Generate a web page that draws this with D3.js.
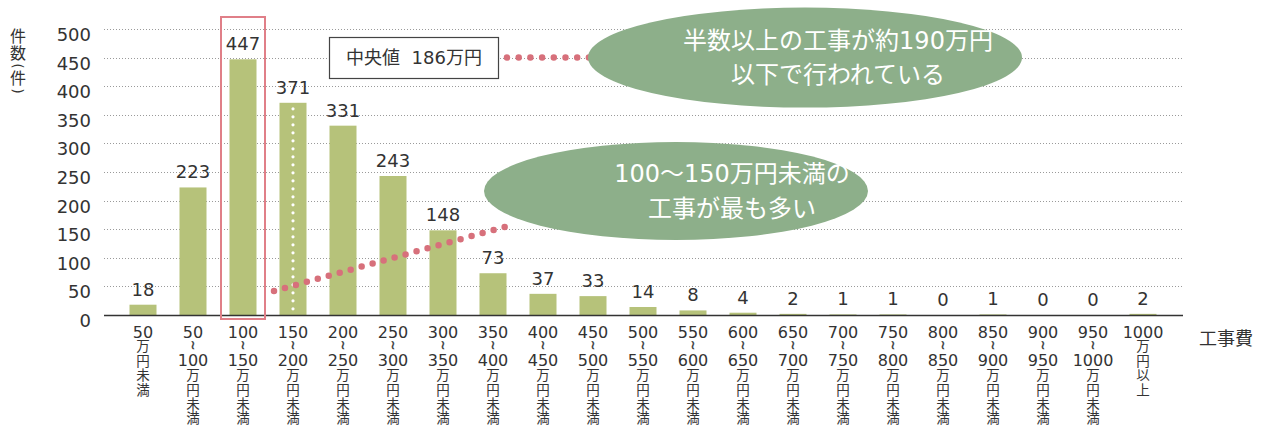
<!DOCTYPE html>
<html>
<head>
<meta charset="utf-8">
<script src="https://cdn.jsdelivr.net/npm/d3@7"></script>
<style>
  body { margin: 0; background: #fff; }
  svg { display: block; font-family: "DejaVu Sans", "Noto Sans CJK JP", sans-serif; }
  .grid line { stroke: #9a9a9a; stroke-dasharray: 1,2; }
  .val { font-size: 18px; fill: #333; text-anchor: middle; }
  .ytick { font-size: 18px; fill: #333; text-anchor: end; }
  .xlab text { fill: #333; text-anchor: middle; dominant-baseline: central; }
  .bubble text { fill: #fff; font-size: 24px; text-anchor: middle; dominant-baseline: central; }
</style>
</head>
<body>
<svg width="1264" height="427"></svg>
<script>
      // data
      const categories = ["50万円未満", "50～100万円未満", "100～150万円未満", "150～200万円未満",
        "200～250万円未満", "250～300万円未満", "300～350万円未満", "350～400万円未満",
        "400～450万円未満", "450～500万円未満", "500～550万円未満", "550～600万円未満",
        "600～650万円未満", "650～700万円未満", "700～750万円未満", "750～800万円未満",
        "800～850万円未満", "850～900万円未満", "900～950万円未満", "950～1000万円未満",
        "1000万円以上"];
      const counts = [18, 223, 447, 371, 331, 243, 148, 73, 37, 33, 14, 8, 4, 2, 1, 1, 0, 1, 0, 0, 2];
      const yTicks = [0, 50, 100, 150, 200, 250, 300, 350, 400, 450, 500];
      const yLabel = ["件", "数", "(", "件", ")"];
      const xLabel = "工事費";
      const modeIndex = 2;      // 100～150万円未満
      const medianIndex = 3;    // 150～200万円未満 (186万円)
      const medianText = "中央値  186万円";
      const noteMedian = ["半数以上の工事が約190万円", "以下で行われている"];
      const noteMode = ["100～150万円未満の", "工事が最も多い"];

      const barColor = "#b6c27a";
      const bubbleColor = "#8daf8a";
      const pink = "#d7707b";

      var svg = d3.select('svg');

      var x = d3.scaleBand()
        .domain(categories)
        .range([118, 1168])
        .paddingInner(0.46)
        .paddingOuter(0.23);
      var y = d3.scaleLinear()
        .domain([0, 500])
        .range([315, 29]);
      var cx = d => x(d) + x.bandwidth() / 2;

      var axisLeft = 104, axisRight = 1183;

      // dotted gridlines
      svg.append('g').attr('class', 'grid')
        .selectAll('line').data(yTicks.filter(d => d > 0))
        .enter().append('line')
          .attr('x1', axisLeft).attr('x2', axisRight)
          .attr('y1', d => Math.round(y(d)) + 0.5).attr('y2', d => Math.round(y(d)) + 0.5);

      // y tick labels
      svg.append('g').selectAll('text').data(yTicks)
        .enter().append('text')
          .attr('class', 'ytick')
          .attr('x', 91)
          .attr('y', d => y(d) + 12)
          .text(d => d);

      // y axis title, stacked vertically, parens turned sideways
      var ylY = [36.5, 53.5, 66, 78.5, 91];
      svg.append('g').selectAll('text').data(yLabel)
        .enter().append('text')
          .attr('font-size', (d, i) => (i === 2 || i === 4) ? 14 : 16)
          .attr('fill', '#333')
          .attr('text-anchor', 'middle')
          .attr('dominant-baseline', 'central')
          .attr('transform', (d, i) => `translate(18,${ylY[i]})` + ((i === 2 || i === 4) ? ' rotate(90)' : ''))
          .text(d => d);

      // bars
      svg.append('g').selectAll('rect').data(counts)
        .enter().append('rect')
          .attr('x', (d, i) => x(categories[i]))
          .attr('width', x.bandwidth())
          .attr('y', d => y(d))
          .attr('height', d => y(0) - y(d))
          .attr('fill', barColor);

      // value labels
      svg.append('g').selectAll('text').data(counts)
        .enter().append('text')
          .attr('class', 'val')
          .attr('x', (d, i) => cx(categories[i]))
          .attr('y', d => y(d) - 9)
          .text(d => d);

      // baseline
      svg.append('line')
        .attr('x1', axisLeft).attr('x2', axisRight)
        .attr('y1', y(0) + 0.5).attr('y2', y(0) + 0.5)
        .attr('stroke', '#333').attr('stroke-width', 1.5);

      // category labels, vertical stacks
      var lineStep = 14.4;
      categories.forEach((c, i) => {
        var m = c.match(/^(\d+)(?:～(\d+))?(.*)$/);
        var lines = [m[1]];
        if (m[2]) lines.push('~', m[2]);
        lines = lines.concat(m[3].split(''));
        var g = svg.append('g').attr('class', 'xlab');
        lines.forEach((t, j) => {
          var yy = 332 + j * lineStep;
          if (t === '~') {
            g.append('text')
              .attr('font-size', 12)
              .attr('stroke', '#333').attr('stroke-width', 0.4)
              .attr('transform', `translate(${cx(c)},${yy - 1}) rotate(90)`)
              .text(t);
          } else {
            g.append('text')
              .attr('font-size', /\d/.test(t) ? 16 : 13.5)
              .attr('x', cx(c))
              .attr('y', yy)
              .text(t);
          }
        });
      });

      svg.append('text')
        .attr('x', 1226).attr('y', 338)
        .attr('font-size', 18).attr('fill', '#333')
        .attr('text-anchor', 'middle').attr('dominant-baseline', 'central')
        .text(xLabel);

      // highlight frame around the mode bar
      var mx = cx(categories[modeIndex]);
      svg.append('rect')
        .attr('x', mx - 22).attr('width', 44)
        .attr('y', y(500) - 12).attr('height', y(0) - y(500) + 16)
        .attr('fill', 'none').attr('stroke', '#e07f88').attr('stroke-width', 2);

      // median: white dotted line inside the 150～200 bar
      var medX = cx(categories[medianIndex]);
      svg.append('line')
        .attr('x1', medX).attr('x2', medX)
        .attr('y1', y(counts[medianIndex]) + 6).attr('y2', y(0))
        .attr('stroke', '#fff').attr('stroke-width', 3.2)
        .attr('stroke-linecap', 'round').attr('stroke-dasharray', '0 8');

      // pink dotted connectors
      svg.append('line')
        .attr('x1', 507).attr('x2', 600)
        .attr('y1', y(450)).attr('y2', y(450))
        .attr('stroke', pink).attr('stroke-width', 6.5)
        .attr('stroke-linecap', 'round').attr('stroke-dasharray', '0 11.7');
      svg.append('path')
        .attr('d', `M${mx + 31},${y(42)} Q${393},${y(100)} ${513},${y(158)}`)
        .attr('fill', 'none')
        .attr('stroke', pink).attr('stroke-width', 6.5)
        .attr('stroke-linecap', 'round').attr('stroke-dasharray', '0 11.4');

      // median box
      svg.append('rect')
        .attr('x', 329.5).attr('y', 37.5).attr('width', 169).attr('height', 41)
        .attr('fill', '#fff').attr('stroke', '#444').attr('stroke-width', 1.2);
      svg.append('text')
        .attr('x', 414).attr('y', y(450))
        .attr('font-size', 18).attr('fill', '#333')
        .attr('text-anchor', 'middle').attr('dominant-baseline', 'central')
        .style('white-space', 'pre')
        .text(medianText);

      // speech bubbles
      function bubble(ex, ey, rx, ry, tx, lines, ys) {
        var g = svg.append('g').attr('class', 'bubble');
        g.append('ellipse')
          .attr('cx', ex).attr('cy', ey).attr('rx', rx).attr('ry', ry)
          .attr('fill', bubbleColor);
        g.selectAll('text').data(lines)
          .enter().append('text')
            .attr('x', tx)
            .attr('y', (d, i) => ys[i])
            .text(d => d);
      }
      bubble(805, y(450), 217, 50, 838, noteMedian, [41, 75]);
      bubble(676, 191, 192, 49, 732, noteMode, [174, 209]);
</script>
</body>
</html>
